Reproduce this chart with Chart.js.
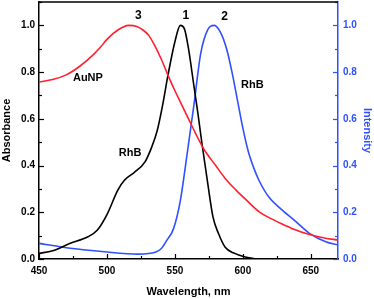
<!DOCTYPE html>
<html><head><meta charset="utf-8">
<script src="https://cdn.jsdelivr.net/npm/chart.js@4/dist/chart.umd.min.js"></script>
<style>html,body{margin:0;padding:0;background:#fff}#wrap{width:374px;height:299px}</style>
</head><body><div id="wrap"><canvas id="c" width="374" height="299"></canvas></div>
<script>
// AuNP absorbance (red)
const auWl  = [450,460,470,480,490,495,500,508,516,522,527,531,535,540,545,550,555,560,565,571,580,587,595,603,612,620,628,636,649,660,670];
const auVal = [0.758,0.768,0.788,0.825,0.875,0.905,0.94,0.98,1.0,0.995,0.978,0.955,0.915,0.855,0.785,0.72,0.66,0.6,0.54,0.473,0.40,0.345,0.295,0.25,0.202,0.175,0.152,0.131,0.105,0.09,0.081];
// RhB absorbance (black)
const rhAbsWl  = [450,460,473,486,493,500,508,513,520,528,533,537,541,545,550,554,557,560,564,567,570,574,578,582,587,594,601,610];
const rhAbsVal = [0.024,0.035,0.067,0.095,0.124,0.19,0.295,0.338,0.37,0.416,0.48,0.55,0.66,0.79,0.93,1.0,0.985,0.9,0.74,0.62,0.49,0.33,0.18,0.11,0.05,0.024,0.01,0.0];
// RhB emission intensity (blue)
const rhEmWl  = [450,473,498,523,536,540,544,549,554,559,564,569,574,579,584,588,592,596,600,604,608,612,619,629,639,649,661,670];
const rhEmVal = [0.067,0.046,0.031,0.021,0.03,0.045,0.08,0.13,0.25,0.45,0.66,0.88,0.98,1.0,0.965,0.9,0.80,0.68,0.56,0.46,0.39,0.335,0.266,0.209,0.16,0.11,0.074,0.06];
// tick values
const xTicks = [450,500,550,600,650];
const yTicks = [0.0,0.2,0.4,0.6,0.8,1.0];
// annotations [text, wavelength, value]
const notes = [["3",523,1.04],["1",558,1.04],["2",586.5,1.035],["AuNP",486,0.774],["RhB",607,0.744],["RhB",517,0.453]];

const RED='#ff1f2e', BLUE='#3050ff', BLK='#000';
const pts=(a,b)=>a.map((x,i)=>({x:x,y:b[i]}));
const FONT='"Liberation Sans", Arial, sans-serif';

const inTicks = {
  id:'inTicks',
  afterDraw(ch){
    const c=ch.ctx, x=ch.scales.x, yl=ch.scales.y, yr=ch.scales.y2;
    c.save(); c.lineWidth=1.2;
    c.strokeStyle=BLK;
    for(let v=450;v<=670;v+=25){const p=Math.round(x.getPixelForValue(v))+0.5;const L=(v%50===0)?5:3;c.beginPath();c.moveTo(p,x.top);c.lineTo(p,x.top-L);c.stroke();}
    for(let v=0;v<=1.1001;v+=0.1){const p=Math.round(yl.getPixelForValue(v))+0.5;const L=(Math.round(v*10)%2===0)?5:3;c.beginPath();c.moveTo(yl.right,p);c.lineTo(yl.right+L,p);c.stroke();}
    c.strokeStyle=BLUE;
    for(let v=0;v<=1.1001;v+=0.1){const p=Math.round(yr.getPixelForValue(v))+0.5;const L=(Math.round(v*10)%2===0)?5:3;c.beginPath();c.moveTo(yr.left,p);c.lineTo(yr.left-L,p);c.stroke();}
    c.strokeStyle=BLK;c.lineWidth=1.5;c.beginPath();c.moveTo(x.left,ch.chartArea.top);c.lineTo(x.right,ch.chartArea.top);c.stroke();
    c.fillStyle=BLK;c.textAlign='center';c.textBaseline='middle';
    notes.forEach(n=>{c.font=(n[0].length===1?'bold 12px ':'bold 11px ')+FONT;c.fillText(n[0],x.getPixelForValue(n[1]),yl.getPixelForValue(n[2]));});
    c.restore();
  }
};
const noPadY = s=>{s.paddingTop=0;s.paddingBottom=0;};

new Chart(document.getElementById('c'),{
  type:'line',
  data:{datasets:[
    {data:pts(auWl,auVal),borderColor:RED,yAxisID:'y'},
    {data:pts(rhAbsWl,rhAbsVal),borderColor:BLK,yAxisID:'y'},
    {data:pts(rhEmWl,rhEmVal),borderColor:BLUE,yAxisID:'y2'}
  ]},
  options:{
    responsive:false,animation:false,
    layout:{padding:{top:2,left:0,right:0,bottom:0}},
    elements:{point:{radius:0},line:{borderWidth:1.6,cubicInterpolationMode:'monotone',fill:false}},
    plugins:{legend:{display:false},tooltip:{enabled:false}},
    scales:{
      x:{type:'linear',min:450,max:670,
        afterBuildTicks:s=>{s.ticks=xTicks.map(v=>({value:v}));},
        afterFit:s=>{s.height=40;s.paddingLeft=0;s.paddingRight=0;},
        grid:{display:false,drawTicks:false},border:{display:true,color:BLK,width:1.5},
        ticks:{color:BLK,padding:6,font:{family:FONT,size:10,weight:'bold'},maxRotation:0,callback:v=>String(v)},
        title:{display:true,text:'Wavelength, nm',color:BLK,font:{family:FONT,size:11,weight:'bold'},padding:{top:3,bottom:0}}
      },
      y:{position:'left',min:0,max:1.1,
        afterBuildTicks:s=>{s.ticks=yTicks.map(v=>({value:v}));},
        afterFit:s=>{s.width=39;noPadY(s);},
        grid:{display:false,drawTicks:false},border:{display:true,color:BLK,width:1.5},
        ticks:{color:BLK,padding:4,font:{family:FONT,size:10,weight:'bold'},callback:v=>v.toFixed(1)},
        title:{display:true,text:'Absorbance',color:BLK,font:{family:FONT,size:11,weight:'bold'},padding:{top:0,bottom:0}}
      },
      y2:{position:'right',min:0,max:1.1,
        afterBuildTicks:s=>{s.ticks=yTicks.map(v=>({value:v}));},
        afterFit:s=>{s.width=36;noPadY(s);},
        grid:{display:false,drawTicks:false},border:{display:true,color:BLUE,width:1.5},
        ticks:{color:BLUE,padding:5,font:{family:FONT,size:10,weight:'bold'},callback:v=>v.toFixed(1)},
        title:{display:true,text:'Intensity',color:BLUE,font:{family:FONT,size:11,weight:'bold'},padding:{top:0,bottom:2}}
      }
    }
  },
  plugins:[inTicks]
});
</script></body></html>
